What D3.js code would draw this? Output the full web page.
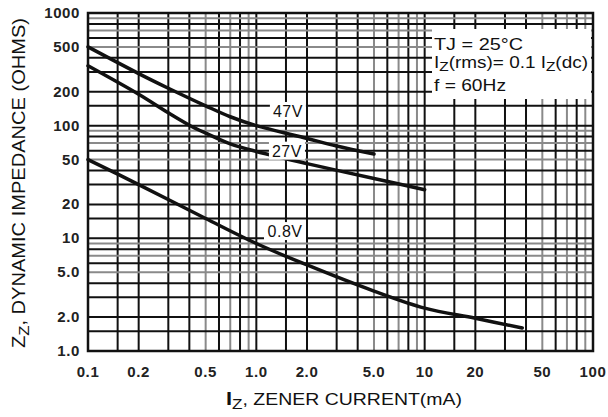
<!DOCTYPE html>
<html>
<head>
<meta charset="utf-8">
<script src="https://cdn.jsdelivr.net/npm/d3@7"></script>
<style>
  body { margin: 0; background: #fff; }
  svg { display: block; font-family: "Liberation Sans", Arial, sans-serif; }
</style>
</head>
<body>
<svg id="chart" width="608" height="417"></svg>
<script>
// tick values / labels
var currentTicks = [0.1, 0.2, 0.5, 1, 2, 5, 10, 20, 50, 100]
var currentTickLabels = ["0.1", "0.2", "0.5", "1.0", "2.0", "5.0", "10", "20", "50", "100"]
var impedanceTicks = [1, 2, 5, 10, 20, 50, 100, 200, 500, 1000]
var impedanceTickLabels = ["1.0", "2.0", "5.0", "10", "20", "50", "100", "200", "500", "1000"]

// curves (mA, ohms)
var seriesNames = ["47V", "27V", "0.8V"]
var iz47 = [0.1, 0.2, 0.3, 0.5, 0.7, 1, 2, 3, 5]
var zz47 = [500, 290, 215, 150, 120, 100, 77, 66, 56]
var iz27 = [0.1, 0.2, 0.3, 0.4, 0.5, 0.7, 1, 2, 5, 10]
var zz27 = [340, 190, 130, 101, 86, 69, 59, 46, 34, 27]
var iz08 = [0.1, 0.2, 0.5, 1, 2, 5, 10, 20, 38]
var zz08 = [50, 30, 15, 9, 5.8, 3.4, 2.4, 1.95, 1.6]

// where the series labels sit (mA, ohms)
var labelCurrent = [1.54, 1.52, 1.48]
var labelImpedance = [135, 60, 11.6]

var gridMultipliers = [1, 1.5, 2, 3, 4, 5, 6, 7, 8, 9]
var greyMultipliers = [5, 7, 9]

var svg = d3.select("#chart")
var margin = {left: 88, right: 15, top: 13, bottom: 66}
var W = 608, H = 417

var x = d3.scaleLog().domain([0.1, 100]).range([margin.left, W - margin.right])
var y = d3.scaleLog().domain([1, 1000]).range([H - margin.bottom, margin.top])

function gridValues(lo, hi){
  var out = []
  for (var d = lo; d < hi; d *= 10){
    gridMultipliers.forEach(function(k){ out.push({v: d*k, k: k}) })
  }
  out.push({v: hi, k: 1})
  return out
}

function gridColour(d){ return greyMultipliers.indexOf(d.k) >= 0 ? "#8a8a8a" : "#111" }

var grid = svg.append("g")

grid.selectAll("line.v")
  .data(gridValues(0.1, 100))
  .enter().append("line")
  .attr("x1", function(d){ return x(d.v) })
  .attr("x2", function(d){ return x(d.v) })
  .attr("y1", y(1000)).attr("y2", y(1))
  .attr("stroke", gridColour)
  .attr("stroke-width", 2)

grid.selectAll("line.h")
  .data(gridValues(1, 1000))
  .enter().append("line")
  .attr("y1", function(d){ return y(d.v) })
  .attr("y2", function(d){ return y(d.v) })
  .attr("x1", x(0.1)).attr("x2", x(100))
  .attr("stroke", gridColour)
  .attr("stroke-width", 2)

// frame
svg.append("rect")
  .attr("x", x(0.1)).attr("y", y(1000))
  .attr("width", x(100) - x(0.1)).attr("height", y(1) - y(1000))
  .attr("fill", "none").attr("stroke", "#111").attr("stroke-width", 2.5)

// condition box
svg.append("rect")
  .attr("x", 432).attr("y", 29).attr("width", 159).attr("height", 70)
  .attr("fill", "#fff")

var cond = svg.append("g").attr("font-size", 16).attr("fill", "#111")
cond.append("text").attr("x", 434).attr("y", 50)
  .attr("textLength", 89).attr("lengthAdjust", "spacingAndGlyphs")
  .text("TJ = 25°C")
var c2 = cond.append("text").attr("x", 434).attr("y", 68)
  .attr("textLength", 154).attr("lengthAdjust", "spacingAndGlyphs")
c2.append("tspan").text("I")
c2.append("tspan").attr("dy", 3).attr("font-size", 13).text("Z")
c2.append("tspan").attr("dy", -3).text("(rms)= 0.1 I")
c2.append("tspan").attr("dy", 3).attr("font-size", 13).text("Z")
c2.append("tspan").attr("dy", -3).text("(dc)")
cond.append("text").attr("x", 434).attr("y", 91)
  .attr("textLength", 72).attr("lengthAdjust", "spacingAndGlyphs")
  .text("f = 60Hz")

// curves
var line = d3.line()
  .x(function(d){ return x(d[0]) })
  .y(function(d){ return y(d[1]) })
  .curve(d3.curveCatmullRom.alpha(0.5))

var series = [d3.zip(iz47, zz47), d3.zip(iz27, zz27), d3.zip(iz08, zz08)]

svg.append("g").selectAll("path")
  .data(series)
  .enter().append("path")
  .attr("d", line)
  .attr("fill", "none")
  .attr("stroke", "#111")
  .attr("stroke-width", 3.5)
  .attr("stroke-linecap", "round")

// series labels with white backing
var labels = svg.append("g").selectAll("g")
  .data(seriesNames)
  .enter().append("g")
  .attr("transform", function(d, i){ return "translate(" + x(labelCurrent[i]) + "," + y(labelImpedance[i]) + ")" })

labels.append("rect")
  .attr("x", function(d){ return d.length > 3 ? -21 : -18 })
  .attr("y", -9)
  .attr("width", function(d){ return d.length > 3 ? 42 : 36 })
  .attr("height", 18)
  .attr("fill", "#fff")

labels.append("text")
  .attr("text-anchor", "middle")
  .attr("dy", 6)
  .attr("font-size", 16)
  .attr("fill", "#111")
  .attr("letter-spacing", 0.5)
  .text(function(d){ return d })

// tick labels
svg.append("g").selectAll("text")
  .data(impedanceTicks)
  .enter().append("text")
  .attr("x", 80)
  .attr("y", function(d){ return y(d) })
  .attr("dy", 5)
  .attr("text-anchor", "end")
  .attr("font-size", 15)
  .attr("font-weight", "bold")
  .attr("letter-spacing", 0.6)
  .attr("fill", "#222")
  .text(function(d, i){ return impedanceTickLabels[i] })

svg.append("g").selectAll("text")
  .data(currentTicks)
  .enter().append("text")
  .attr("x", function(d){ return x(d) })
  .attr("y", 377)
  .attr("text-anchor", "middle")
  .attr("font-size", 15)
  .attr("font-weight", "bold")
  .attr("letter-spacing", 0.6)
  .attr("fill", "#222")
  .text(function(d, i){ return currentTickLabels[i] })

// axis titles
var xt = svg.append("text")
  .attr("x", 226).attr("y", 405)
  .attr("font-size", 17)
  .attr("fill", "#111")
  .attr("textLength", 236)
  .attr("lengthAdjust", "spacingAndGlyphs")
xt.append("tspan").attr("font-weight", "bold").attr("font-size", 19).text("I")
xt.append("tspan").attr("dy", 4).attr("font-size", 15).text("Z")
xt.append("tspan").attr("dy", -4).text(", ZENER  CURRENT(mA)")

var yt = svg.append("text")
  .attr("transform", "translate(25,348) rotate(-90)")
  .attr("font-size", 18)
  .attr("fill", "#111")
  .attr("textLength", 330)
  .attr("lengthAdjust", "spacingAndGlyphs")
yt.append("tspan").text("Z")
yt.append("tspan").attr("dy", 4).attr("font-size", 15).text("Z")
yt.append("tspan").attr("dy", -4).text(", DYNAMIC  IMPEDANCE  (OHMS)")
</script>
</body>
</html>
